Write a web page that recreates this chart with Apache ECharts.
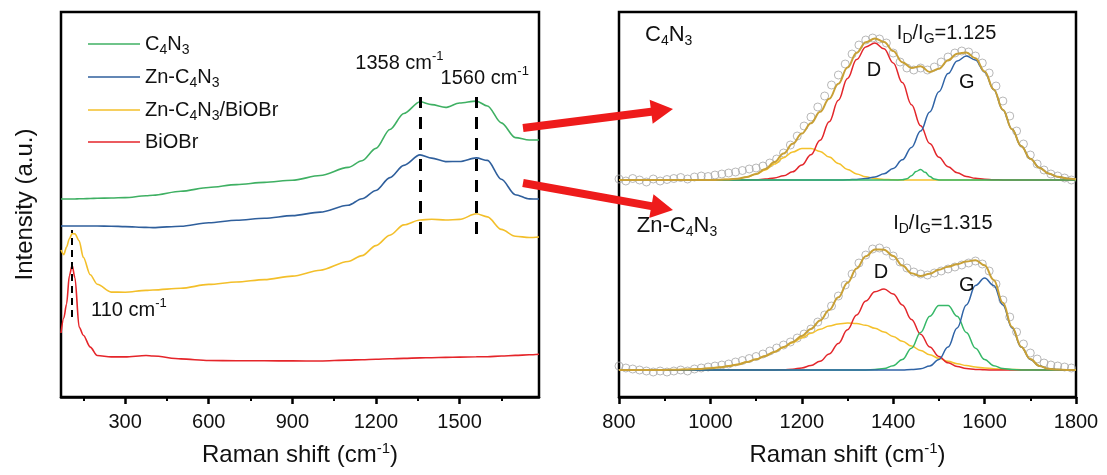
<!DOCTYPE html>
<html>
<head>
<meta charset="utf-8">
<script src="https://cdn.jsdelivr.net/npm/echarts@6/dist/echarts.min.js"></script>
<style>
  html, body { margin: 0; padding: 0; background: #ffffff; }
  #chart { width: 1107px; height: 475px; }
</style>
</head>
<body>
<div id="chart"></div>
<script>
// ---- Left panel: Raman spectra, stacked (intensity in a.u.) ----
const ramanShift = [70, 80, 90, 100, 110, 120, 135, 150, 175, 200, 250, 300, 375, 400, 500, 600, 700, 800, 900, 1000,
  1100, 1150, 1200, 1250, 1300, 1358, 1400, 1450, 1500, 1560, 1600, 1650, 1700, 1750, 1785];
const c4n3 = [198, 198, 198, 198, 198, 198, 198.2, 198.3, 198.5, 198.7, 199, 199.4, 201.2, 201.7, 205.7, 209.5, 212.4, 214.6, 216.8, 221.5,
  229.6, 236.3, 248.6, 267.5, 283.5, 295.2, 292.4, 289.6, 294, 295.9, 291, 274.1, 259.4, 257, 257];
const znC4n3 = [171, 171, 171, 171, 171, 171, 171, 171, 171, 171, 170.8, 170.4, 169.6, 169.4, 170.8, 174.3, 176.8, 178.7, 181.4, 184.9,
  191.7, 198.3, 206.5, 219.4, 231.6, 242.1, 238.9, 235.4, 235.5, 239.1, 236.6, 217.7, 202.3, 198.1, 198];
const znC4n3BiOBr = [147, 142.4, 150, 158.3, 163.4, 163.1, 156.3, 139.7, 122.2, 112.8, 104.9, 104.8, 106.6, 107, 108.7, 112.6, 115, 117.4, 120.9, 126.8,
  135.5, 141.4, 151.4, 161.8, 172.1, 177, 177.7, 177, 177.6, 183.2, 180.1, 167.6, 160.7, 159.5, 160];
const biOBr = [64, 79, 93, 121.1, 131.6, 119.2, 70, 61.8, 49.9, 41.5, 40.1, 40.1, 41.5, 41, 38.1, 36.5, 36.3, 36.2, 36.1, 36,
  36.9, 37.3, 37.8, 38.2, 38.6, 39.1, 39.3, 39.6, 39.9, 40.2, 40.3, 41, 41.6, 42.2, 42.7];

const leftTicks = [300, 600, 900, 1200, 1500];
const leftMinorTicks = [150, 450, 750, 1050, 1350, 1650];
const bandPositions = [1358, 1560];   // marked D and G bands
const biobrPeak = 110;                 // BiOBr low-frequency mode

// ---- Right panel: peak deconvolution of the D/G region ----
const fitShift = [800, 820, 840, 860, 880, 900, 920, 940, 960, 980, 1000, 1020, 1040, 1060, 1080, 1100, 1120, 1140, 1160, 1180,
  1200, 1220, 1240, 1260, 1280, 1300, 1320, 1340, 1360, 1380, 1400, 1420, 1440, 1460, 1480, 1500, 1520, 1540, 1560, 1580,
  1600, 1620, 1640, 1660, 1680, 1700, 1720, 1740, 1760, 1780, 1800];

// C4N3 components
const topD = [0, 0, 0, 0, 0, 0, 0, 0, 0, 0, 0, 0, 0, 0, 0.1, 0.3, 0.9, 2.0, 4.2, 8.2,
  14.9, 25.2, 39.7, 58.3, 79.8, 101.6, 120.5, 133.1, 137, 131.2, 117.1, 97.4, 75.3, 54.3, 36.5, 22.8, 13.3, 7.2, 3.6, 1.7,
  0.7, 0.3, 0.1, 0, 0, 0, 0, 0, 0, 0, 0];
const topG = [0, 0, 0, 0, 0, 0, 0, 0, 0, 0, 0, 0, 0, 0, 0, 0, 0, 0, 0, 0,
  0, 0, 0, 0, 0, 0.2, 0.6, 1.4, 3.1, 6.2, 11.6, 20.2, 32.6, 48.9, 68.1, 88.3, 106.4, 119.1, 124, 120,
  107.9, 90.3, 70.1, 50.7, 34, 21.3, 12.3, 6.6, 3.3, 1.6, 0.7];
const topLow = [0, 0, 0, 0, 0, 0, 0, 0, 0, 0, 0, 0.2, 0.6, 1.3, 3.0, 5.8, 10.1, 15.9, 22.3, 28.0,
  31.5, 31.6, 28.5, 22.9, 16.5, 10.6, 6.1, 3.2, 1.5, 0.6, 0.2, 0, 0, 0, 0, 0, 0, 0, 0, 0,
  0, 0, 0, 0, 0, 0, 0, 0, 0, 0, 0];
const narrowShift = [800, 1400, 1420, 1430, 1440, 1450, 1460, 1470, 1480, 1490, 1500, 1520, 1800];
const topNarrow = [0, 0, 0.2, 1.2, 4.2, 8.5, 10.5, 7.7, 3.4, 0.9, 0.1, 0, 0];
const topEnvelope = [0, 0, 0, 0, 0, 0, 0, 0, 0, 0, 0, 0.2, 0.6, 1.3, 3.1, 6.1, 11.0, 17.9, 26.5, 36.2,
  46.4, 56.8, 68.2, 81.2, 96.3, 112.4, 127.2, 137.7, 141.6, 138.0, 128.9, 117.8, 112.1, 113.7, 108.0, 111.2, 119.7, 126.3, 127.6, 121.7,
  108.6, 90.6, 70.2, 50.7, 34.0, 21.3, 12.3, 6.6, 3.3, 1.6, 0.7];

// Zn-C4N3 components
const botD = [0, 0, 0, 0, 0, 0, 0, 0, 0, 0, 0, 0, 0, 0, 0, 0, 0, 0, 0.3, 0.8,
  2.0, 4.4, 8.8, 16.0, 26.6, 40.2, 55.1, 68.9, 78.3, 80.9, 76.1, 65.1, 50.6, 35.8, 23.1, 13.5, 7.2, 3.5, 1.5, 0.6,
  0.2, 0, 0, 0, 0, 0, 0, 0, 0, 0, 0];
const botLow = [0, 0, 0, 0, 0.1, 0.1, 0.2, 0.4, 0.7, 1.1, 1.7, 2.7, 3.9, 5.6, 7.9, 10.7, 14.1, 18.1, 22.6, 27.3,
  32.1, 36.7, 40.8, 44.0, 46.1, 47.0, 46.5, 44.7, 41.8, 38.0, 33.5, 28.7, 24.0, 19.4, 15.3, 11.7, 8.7, 6.3, 4.4, 3.0,
  2.0, 1.3, 0.8, 0.5, 0.3, 0.2, 0.1, 0, 0, 0, 0];
const botMid = [0, 0, 0, 0, 0, 0, 0, 0, 0, 0, 0, 0, 0, 0, 0, 0, 0, 0, 0, 0,
  0, 0, 0, 0, 0, 0, 0, 0.1, 0.4, 1.4, 4.3, 10.6, 21.8, 37.5, 53.8, 64.5, 64.5, 53.8, 37.5, 21.8,
  10.6, 4.3, 1.4, 0.4, 0.1, 0, 0, 0, 0, 0, 0];
const botG = [0, 0, 0, 0, 0, 0, 0, 0, 0, 0, 0, 0, 0, 0, 0, 0, 0, 0, 0, 0,
  0, 0, 0, 0, 0, 0, 0, 0, 0, 0, 0, 0, 0.4, 1.3, 4.0, 10.5, 22.9, 42.1, 65.0, 84.4,
  92.0, 84.4, 65.0, 42.1, 22.9, 10.5, 4.0, 1.3, 0.4, 0.1, 0];
const botEnvelope = [0, 0, 0, 0, 0.1, 0.1, 0.2, 0.4, 0.7, 1.1, 1.7, 2.7, 3.9, 5.6, 7.9, 10.7, 14.1, 18.1, 22.9, 28.1,
  34.1, 41.1, 49.6, 60.0, 72.7, 87.2, 101.6, 113.7, 120.5, 120.3, 113.9, 104.4, 96.8, 94.0, 96.2, 100.2, 103.3, 105.7, 108.4, 109.8,
  104.8, 90.0, 67.2, 43.0, 23.3, 10.9, 4.1, 1.3, 0.4, 0.1, 0];

// measured points
const pointShift = [800, 815, 830, 845, 860, 875, 890, 905, 920, 935, 950, 965, 980, 995, 1010, 1025, 1040, 1055, 1070, 1085,
  1100, 1115, 1130, 1145, 1160, 1175, 1190, 1205, 1220, 1235, 1250, 1265, 1280, 1295, 1310, 1325, 1340, 1355, 1370, 1385,
  1400, 1415, 1430, 1445, 1460, 1475, 1490, 1505, 1520, 1535, 1550, 1565, 1580, 1595, 1610, 1625, 1640, 1655, 1670, 1685,
  1700, 1715, 1730, 1745, 1760, 1775, 1790];
const topPoints = [1, -1, 1.5, 0, -2, 1, -1, 0.5, 1.5, 2.5, 1, 3, 4, 3.5, 5, 6, 7, 8, 9.5, 11,
  12, 14, 17, 21, 27, 35, 44, 54, 63, 73, 84, 95, 105, 116, 126, 135, 140, 142, 141, 137,
  127, 118, 112, 110, 112, 110, 113, 118, 123, 127, 129, 128, 124, 117, 107, 94, 79, 64, 49, 36,
  25, 16, 10, 6, 4, 2, 0];
const botPoints = [4, 2, 1, 0, -1, -2, -1, -2, -1, 0, -1, 1, 2, 3, 4, 5, 6, 8, 9.5, 11.5,
  13.5, 16, 19, 22, 25, 28, 32, 36, 41, 48, 55, 64, 74, 85, 96, 107, 115, 121, 122, 119,
  114, 108, 102, 98, 96, 95, 97, 99, 101, 103, 105, 107, 109, 106, 99, 86, 70, 53, 38, 26,
  17, 11, 7, 5, 4, 3, 2];

const ratioTop = '1.125';
const ratioBottom = '1.315';

// ---- drawing ----
const FONT = '"Liberation Sans", Arial, Helvetica, sans-serif';
const INK = '#111111';
const COL = {
  green: '#3fb063', blue: '#2f5f9c', yellow: '#f3bf2a', red: '#e5252a',
  fitRed: '#e3262b', fitBlue: '#2f63a6', fitYellow: '#f4c12c', fitGreen: '#36b868',
  envelope: '#c8a036', point: '#a6a6a6', arrow: '#ee1b1b'
};
const topBaseline = 217;
const bottomBaseline = 27;

const pairs = (xs, ys, off) => xs.map((x, i) => [x, ys[i] + (off || 0)]);
const chem = (s) => s.replace(/(\d+)/g, '{s|$1}');
const plainNumber = (v) => String(v);

const chart = echarts.init(document.getElementById('chart'), null, { renderer: 'canvas' });

function spectrum(name, ys, color) {
  return {
    name, type: 'line', xAxisIndex: 0, yAxisIndex: 0,
    data: pairs(ramanShift, ys), symbol: 'none', showSymbol: false,
    smooth: 0.3, smoothMonotone: 'x',
    lineStyle: { color, width: 1.6 }, itemStyle: { color },
    z: 3
  };
}
function fitLine(xs, ys, off, color, width, z) {
  return {
    type: 'line', xAxisIndex: 2, yAxisIndex: 1,
    data: pairs(xs, ys, off), symbol: 'none', showSymbol: false,
    smooth: 0.4, smoothMonotone: 'x',
    lineStyle: { color, width }, itemStyle: { color },
    silent: true, z
  };
}
function points(ys, off) {
  return {
    type: 'scatter', xAxisIndex: 2, yAxisIndex: 1,
    data: pairs(pointShift, ys, off), symbol: 'circle', symbolSize: 8,
    itemStyle: { color: 'rgba(255,255,255,0)', borderColor: COL.point, borderWidth: 1 },
    silent: true, z: 2
  };
}

const dashed = (x, y0, y1) => [{ coord: [x, y0] }, { coord: [x, y1] }];

const series = [
  Object.assign(spectrum('C4N3', c4n3, COL.green), {
    markLine: {
      silent: true, symbol: ['none', 'none'], label: { show: false }, animation: false,
      lineStyle: { color: '#000', width: 3, type: [12, 9] },
      data: bandPositions.map(b => dashed(b, 163, 300))
    }
  }),
  spectrum('Zn-C4N3', znC4n3, COL.blue),
  spectrum('Zn-C4N3/BiOBr', znC4n3BiOBr, COL.yellow),
  Object.assign(spectrum('BiOBr', biOBr, COL.red), {
    markLine: {
      silent: true, symbol: ['none', 'none'], label: { show: false }, animation: false,
      lineStyle: { color: '#000', width: 2, type: [7, 5] },
      data: [dashed(biobrPeak, 80, 167)]
    }
  }),
  points(topPoints, topBaseline),
  points(botPoints, bottomBaseline),
  fitLine(fitShift, topLow, topBaseline, COL.fitYellow, 1.5, 3),
  fitLine(fitShift, topD, topBaseline, COL.fitRed, 1.5, 3),
  fitLine(fitShift, topG, topBaseline, COL.fitBlue, 1.5, 3),
  fitLine(narrowShift, topNarrow, topBaseline, COL.fitGreen, 1.5, 3),
  fitLine(fitShift, topEnvelope, topBaseline, COL.envelope, 2, 4),
  fitLine(fitShift, botLow, bottomBaseline, COL.fitYellow, 1.5, 3),
  fitLine(fitShift, botD, bottomBaseline, COL.fitRed, 1.5, 3),
  fitLine(fitShift, botMid, bottomBaseline, COL.fitGreen, 1.5, 3),
  fitLine(fitShift, botG, bottomBaseline, COL.fitBlue, 1.5, 3),
  fitLine(fitShift, botEnvelope, bottomBaseline, COL.envelope, 2, 4)
];

const axisName = 'Raman shift (cm{p|-1})';
const axisNameStyle = {
  fontSize: 24, color: INK, fontFamily: FONT,
  rich: { p: { fontSize: 15, color: INK, fontFamily: FONT, padding: [0, 0, 14, 0] } }
};
const tickLabelStyle = { fontSize: 20, color: INK, fontFamily: FONT, formatter: plainNumber };

const option = {
  animation: false,
  backgroundColor: '#ffffff',
  grid: [
    { left: 61, top: 12, width: 478, height: 385, show: true, borderColor: '#000', borderWidth: 2.5, containLabel: false },
    { left: 619, top: 12, width: 457, height: 385, show: true, borderColor: '#000', borderWidth: 2.5, containLabel: false }
  ],
  legend: {
    orient: 'vertical', left: 88, top: 31, padding: 0,
    icon: 'rect', itemWidth: 52, itemHeight: 1.6, itemGap: 7,
    data: ['C4N3', 'Zn-C4N3', 'Zn-C4N3/BiOBr', 'BiOBr'],
    formatter: chem,
    textStyle: {
      fontSize: 20, color: INK, fontFamily: FONT, lineHeight: 24,
      rich: { s: { fontSize: 14, color: INK, fontFamily: FONT, padding: [12, 0, 0, 0], lineHeight: 24 } }
    }
  },
  xAxis: [
    {
      type: 'value', gridIndex: 0, min: 70, max: 1785, position: 'bottom',
      axisLine: { show: true, lineStyle: { color: '#000', width: 2.5 } },
      axisTick: { show: true, inside: false, length: 7, lineStyle: { color: '#000', width: 2.5 }, customValues: leftTicks },
      axisLabel: { show: true, margin: 15, customValues: leftTicks, ...tickLabelStyle },
      splitLine: { show: false },
      name: axisName, nameLocation: 'middle', nameGap: 44, nameTextStyle: axisNameStyle
    },
    {
      // short intermediate ticks
      type: 'value', gridIndex: 0, min: 70, max: 1785, position: 'bottom', offset: 0,
      axisLine: { show: false },
      axisTick: { show: true, inside: false, length: 4, lineStyle: { color: '#000', width: 2 }, customValues: leftMinorTicks },
      axisLabel: { show: true, customValues: leftMinorTicks, formatter: () => '' },
      splitLine: { show: false }
    },
    {
      type: 'value', gridIndex: 1, min: 800, max: 1800, interval: 200, position: 'bottom',
      axisLine: { show: true, lineStyle: { color: '#000', width: 2.5 } },
      axisTick: { show: true, inside: false, length: 7, lineStyle: { color: '#000', width: 2.5 } },
      minorTick: { show: true, splitNumber: 2, length: 4, lineStyle: { color: '#000', width: 2 } },
      axisLabel: { show: true, margin: 15, ...tickLabelStyle },
      splitLine: { show: false },
      name: axisName, nameLocation: 'middle', nameGap: 44, nameTextStyle: axisNameStyle
    }
  ],
  yAxis: [
    {
      type: 'value', gridIndex: 0, min: 0, max: 385,
      axisLine: { show: false }, axisTick: { show: false }, axisLabel: { show: false }, splitLine: { show: false },
      name: 'Intensity (a.u.)', nameLocation: 'middle', nameGap: 24,
      nameTextStyle: { fontSize: 24, color: INK, fontFamily: FONT }
    },
    {
      type: 'value', gridIndex: 1, min: 0, max: 385,
      axisLine: { show: false }, axisTick: { show: false }, axisLabel: { show: false }, splitLine: { show: false }
    }
  ],
  series
};
chart.setOption(option);

// ---- annotations placed in data coordinates ----
const richSmall = {
  s: { fontSize: 14, fill: INK, fontFamily: FONT, padding: [12, 0, 0, 0] },
  p: { fontSize: 13, fill: INK, fontFamily: FONT, padding: [0, 0, 13, 0] }
};
const annotations = [
  { grid: 0, at: [1126, 334], text: '1358 cm{p|-1}', size: 20 },
  { grid: 0, at: [1432, 319], text: '1560 cm{p|-1}', size: 20 },
  { grid: 0, at: [178, 87], text: '110 cm{p|-1}', size: 20 },
  { grid: 1, at: [857, 362], text: chem('C4N3'), size: 22 },
  { grid: 1, at: [1408, 364], text: 'I{s|D}/I{s|G}=' + ratioTop, size: 20 },
  { grid: 1, at: [1358, 327], text: 'D', size: 20, center: true },
  { grid: 1, at: [1561, 315], text: 'G', size: 20, center: true },
  { grid: 1, at: [839, 171], text: chem('Zn-C4N3'), size: 22 },
  { grid: 1, at: [1400, 174], text: 'I{s|D}/I{s|G}=' + ratioBottom, size: 20 },
  { grid: 1, at: [1373, 125], text: 'D', size: 20, center: true },
  { grid: 1, at: [1561, 112], text: 'G', size: 20, center: true }
];

const graphics = annotations.map(a => {
  const p = chart.convertToPixel({ gridIndex: a.grid }, a.at);
  return {
    type: 'text', x: p[0], y: p[1], z: 20, silent: true,
    style: {
      text: a.text, fontSize: a.size, fontFamily: FONT, fill: INK,
      align: a.center ? 'center' : 'left', verticalAlign: 'middle',
      rich: richSmall
    }
  };
});

// pointer arrows from the overview to the fitted panels
function arrowShape(sx, sy, tx, ty, shaft, headLen, headW) {
  const dx = tx - sx, dy = ty - sy, len = Math.hypot(dx, dy);
  const ux = dx / len, uy = dy / len, nx = -uy, ny = ux;
  const bx = tx - ux * headLen, by = ty - uy * headLen;
  return [
    [sx + nx * shaft / 2, sy + ny * shaft / 2],
    [bx + nx * shaft / 2, by + ny * shaft / 2],
    [bx + nx * headW / 2, by + ny * headW / 2],
    [tx, ty],
    [bx - nx * headW / 2, by - ny * headW / 2],
    [bx - nx * shaft / 2, by - ny * shaft / 2],
    [sx - nx * shaft / 2, sy - ny * shaft / 2]
  ];
}
const arrows = [
  [523, 128, 673, 109],
  [523, 183, 673, 210]
];
arrows.forEach(a => {
  graphics.push({
    type: 'polygon', z: 30, silent: true,
    shape: { points: arrowShape(a[0], a[1], a[2], a[3], 8, 22, 24) },
    style: { fill: COL.arrow }
  });
});

chart.setOption({ graphic: graphics });
</script>
</body>
</html>
